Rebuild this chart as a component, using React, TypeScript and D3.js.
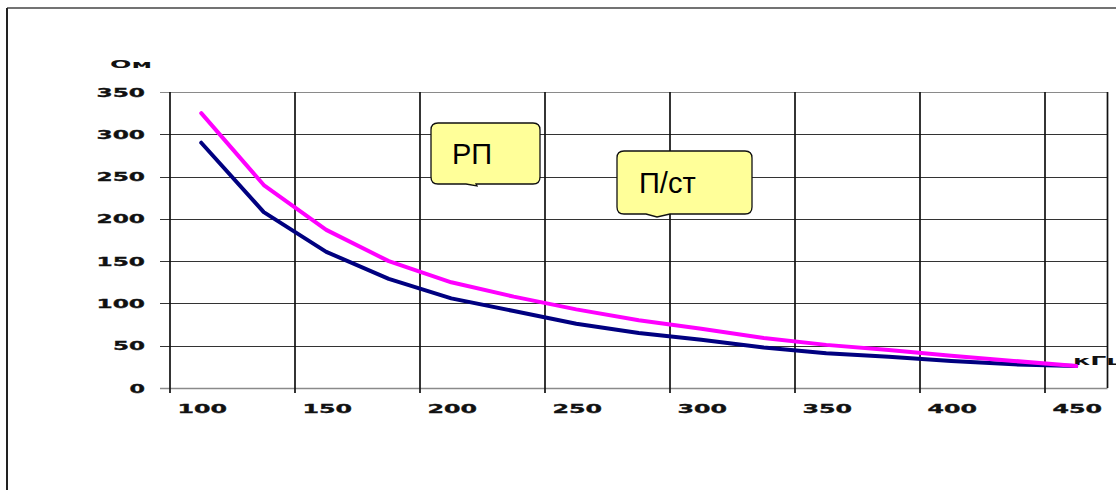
import React from "react";
import * as d3 from "d3";

const categories = [100, 125, 150, 175, 200, 225, 250, 275, 300, 325, 350, 375, 400, 425, 450];
const seriesMagenta = [325, 240, 187, 150, 125, 108, 93, 80, 70, 59, 51, 45, 38, 32, 26];
const seriesNavy = [290, 208, 161, 129, 106, 91, 76, 65, 57, 48, 41, 37, 32, 28, 26];
const yTicks = [0, 50, 100, 150, 200, 250, 300, 350];
const xLabelCats = [100, 150, 200, 250, 300, 350, 400, 450];
const yUnit = "Ом";
const xUnit = "кГц";
const calloutA = "РП";
const calloutB = "П/ст";

const W = 1116;
const H = 490;
const left = 170;
const right = 1107.5;
const top = 92;
const bottom = 388;

const axisFont = "'DejaVu Sans', 'Liberation Sans', Arial, sans-serif";

export default function App() {
  const x = d3.scaleBand<number>().domain(categories).range([left, right]).padding(0);
  const y = d3.scaleLinear().domain([0, 350]).range([bottom, top]);
  const cx = (c: number) => (x(c) as number) + x.bandwidth() / 2;

  const line = d3
    .line<number>()
    .x((_, i) => cx(categories[i]))
    .y((d) => y(d));

  const calloutPath = (
    x0: number,
    y0: number,
    x1: number,
    y1: number,
    r: number,
    tx: number,
    tw: number,
    tipX: number,
    tipY: number
  ) =>
    `M${x0 + r},${y0} L${x1 - r},${y0} Q${x1},${y0} ${x1},${y0 + r} L${x1},${y1 - r} Q${x1},${y1} ${x1 - r},${y1} ` +
    `L${tx + tw},${y1} L${tipX},${tipY} L${tx},${y1} ` +
    `L${x0 + r},${y1} Q${x0},${y1} ${x0},${y1 - r} L${x0},${y0 + r} Q${x0},${y0} ${x0 + r},${y0} Z`;

  const digitW = 16.5;

  return (
    <svg
      width={W}
      height={H}
      style={{ position: "absolute", left: 0, top: 0, display: "block", background: "#fff" }}
    >
      {/* outer frame */}
      <line x1={7} y1={8} x2={W} y2={8} stroke="#444" strokeWidth={1.5} />
      <line x1={7} y1={8} x2={7} y2={H} stroke="#222" strokeWidth={2} />

      {/* horizontal gridlines + ticks */}
      {yTicks.map((t) => (
        <line
          key={"h" + t}
          x1={160}
          x2={right}
          y1={Math.round(y(t)) + 0.5}
          y2={Math.round(y(t)) + 0.5}
          stroke={t === 0 || t === 350 ? "#8a8a8a" : "#333"}
          strokeWidth={t === 0 ? 1.5 : 1}
        />
      ))}

      {/* vertical gridlines at every 2nd category boundary */}
      {xLabelCats.map((c) => {
        const xx = Math.round(x(c) as number);
        return (
          <line key={"v" + c} x1={xx} x2={xx} y1={top} y2={bottom + 5} stroke="#111" strokeWidth={1.7} />
        );
      })}
      <line x1={right} x2={right} y1={top} y2={bottom} stroke="#111" strokeWidth={1.7} />

      {/* y labels */}
      {yTicks.map((t) => {
        const s = String(t);
        const len = s.length * digitW - 1;
        return (
          <text
            key={"yl" + t}
            x={145 - len}
            y={y(t) + 4.5}
            fontFamily={axisFont}
            fontWeight="bold"
            fontSize={11.5}
            fill="#111"
            stroke="#111"
            strokeWidth={0.3}
            textLength={len}
            lengthAdjust="spacingAndGlyphs"
          >
            {s}
          </text>
        );
      })}

      {/* x labels */}
      {xLabelCats.map((c) => {
        const s = String(c);
        const len = s.length * digitW;
        return (
          <text
            key={"xl" + c}
            x={cx(c) - len / 2 + 1}
            y={413}
            fontFamily={axisFont}
            fontWeight="bold"
            fontSize={11.5}
            fill="#111"
            stroke="#111"
            strokeWidth={0.3}
            textLength={len}
            lengthAdjust="spacingAndGlyphs"
          >
            {s}
          </text>
        );
      })}

      {/* unit labels */}
      <text
        x={110}
        y={68}
        fontFamily={axisFont}
        fontWeight="bold"
        fontSize={10}
        fill="#111"
        textLength={42}
        lengthAdjust="spacingAndGlyphs"
      >
        {yUnit}
      </text>
      <text
        x={1073}
        y={365}
        fontFamily={axisFont}
        fontWeight="bold"
        fontSize={11.5}
        fill="#111"
        textLength={52}
        lengthAdjust="spacingAndGlyphs"
      >
        {xUnit}
      </text>

      {/* series */}
      <path
        d={line(seriesNavy) || ""}
        fill="none"
        stroke="#000080"
        strokeWidth={4}
        strokeLinejoin="round"
        strokeLinecap="round"
      />
      <path
        d={line(seriesMagenta) || ""}
        fill="none"
        stroke="#FF00FF"
        strokeWidth={4}
        strokeLinejoin="round"
        strokeLinecap="round"
      />

      {/* callouts */}
      <path
        d={calloutPath(431, 123, 540, 184, 7, 466, 10, 477, 186)}
        fill="#FFFF99"
        stroke="#111"
        strokeWidth={1.3}
      />
      <text x={452} y={164} fontFamily="'Liberation Sans', Arial, sans-serif" fontSize={29} fill="#000">
        {calloutA}
      </text>
      <path
        d={calloutPath(617, 151, 752, 214, 7, 646, 24, 657, 217)}
        fill="#FFFF99"
        stroke="#111"
        strokeWidth={1.3}
      />
      <text x={639} y={193} fontFamily="'Liberation Sans', Arial, sans-serif" fontSize={29} fill="#000">
        {calloutB}
      </text>
    </svg>
  );
}
